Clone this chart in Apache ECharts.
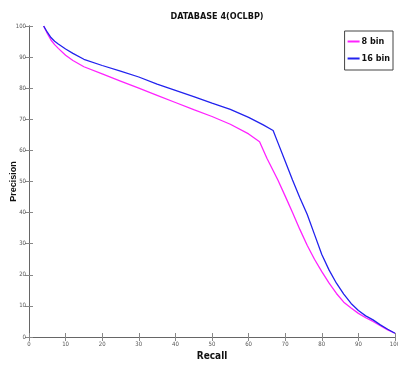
<!DOCTYPE html>
<html><head><meta charset="utf-8">
<script src="https://cdn.jsdelivr.net/npm/echarts@6/dist/echarts.min.js"></script>
<style>html,body{margin:0;padding:0;background:#fff}#c{width:398px;height:365px}</style>
</head><body><div id="c"></div>
<script>
const titleText = 'DATABASE 4(OCLBP)';
const xName = 'Recall';
const yName = 'Precision';
const seriesNames = ['8 bin', '16 bin'];
const bin8 = [[4,100],[5,97.6],[6,95.5],[7,94],[8,92.8],[10,90.6],[12,88.9],[15,86.9],[20,84.6],[25,82.3],[30,80],[35,77.7],[40,75.4],[45,73.1],[50,70.9],[55,68.4],[60,65.3],[63,62.8],[65,57.5],[68,50.5],[70,45.3],[72,40],[74,34.6],[76,29.5],[78,25],[80,21],[82,17.3],[84,14],[86,11.2],[88,9.3],[90,7.6],[92,6.2],[94,5],[96,3.6],[98,2.3],[100,1.2]];
const bin16 = [[4,100],[5,98],[6,96.3],[7,95.1],[8,94.2],[10,92.6],[12,91.2],[15,89.3],[20,87.3],[25,85.5],[30,83.6],[35,81.3],[40,79.3],[45,77.3],[50,75.2],[55,73.2],[60,70.6],[64,68.2],[66.7,66.4],[68,62.5],[70,56.5],[72,50.5],[74,44.8],[76,39.5],[78,33],[80,26.5],[82,21.5],[84,17.3],[86,13.8],[88,10.8],[90,8.5],[92,6.8],[94,5.5],[96,3.9],[98,2.5],[100,1.2]];

const ff = '"DejaVu Sans Condensed","Liberation Sans Narrow",Arial,sans-serif';
const axisLine = {show:true, lineStyle:{color:'#666', width:1}};
const tick = {show:true, inside:true, length:4, lineStyle:{color:'#888'}};
const lbl = {fontSize:6, color:'#555', fontFamily:ff};
const chart = echarts.init(document.getElementById('c'));
chart.setOption({
  animation:false,
  title:{text:titleText, left:212, top:7, textAlign:'center', textStyle:{fontSize:9, fontWeight:'bold', fontFamily:ff, color:'#111'}},
  grid:{left:29, right:3, top:26, bottom:28, outerBoundsMode:'none', containLabel:false},
  legend:{
    data:seriesNames, orient:'vertical', right:5, top:31, itemWidth:12, itemHeight:2, itemGap:8,
    padding:[6,3,7,3], borderColor:'#444', borderWidth:1, backgroundColor:'#fff',
    textStyle:{fontSize:9, fontWeight:'bold', fontFamily:ff, color:'#111', padding:[0,0,0,-3]},
    icon:'rect'
  },
  xAxis:[
    {type:'value', min:0, max:100, interval:10, axisLine, axisTick:tick, axisLabel:{...lbl, margin:4}, splitLine:{show:false},
     name:xName, nameLocation:'middle', nameGap:13, nameTextStyle:{fontSize:10, fontWeight:'bold', fontFamily:ff, color:'#111'}},
    {type:'value', position:'top', min:0, max:100, interval:10, axisLine, axisTick:tick, axisLabel:{show:false}, splitLine:{show:false}}
  ],
  yAxis:[
    {type:'value', min:0, max:100, interval:10, axisLine, axisTick:tick, axisLabel:{...lbl, margin:3}, splitLine:{show:false},
     name:yName, nameLocation:'middle', nameGap:11, nameMoveOverlap:false, nameTextStyle:{fontSize:9, fontWeight:'bold', fontFamily:'"Liberation Sans",Arial,sans-serif', color:'#111'}},
    {type:'value', position:'right', min:0, max:100, interval:10, axisLine, axisTick:tick, axisLabel:{show:false}, splitLine:{show:false}}
  ],
  series:[
    {name:seriesNames[0], type:'line', data:bin8, showSymbol:false, smooth:false, lineStyle:{color:'#ff22ff', width:1.3}, itemStyle:{color:'#ff22ff'}},
    {name:seriesNames[1], type:'line', data:bin16, showSymbol:false, smooth:false, lineStyle:{color:'#2222ee', width:1.3}, itemStyle:{color:'#2222ee'}}
  ]
});
</script></body></html>
